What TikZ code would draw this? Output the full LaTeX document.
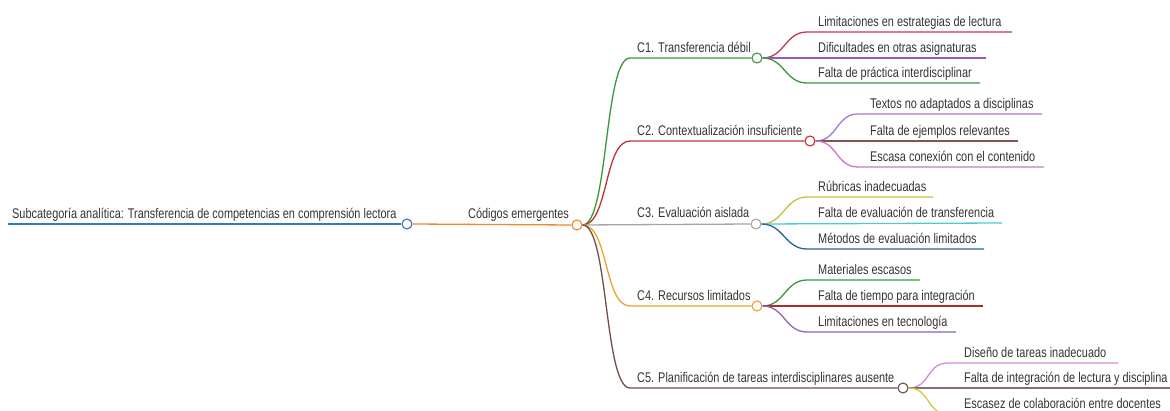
\documentclass[tikz,border=0pt]{standalone}
\usepackage{fontspec}
\setmainfont[FakeStretch=0.78]{Liberation Sans}

\definecolor{rootblue}{RGB}{52,121,185}
\definecolor{codorange}{RGB}{232,137,48}
\definecolor{cgreen}{RGB}{60,150,60}
\definecolor{cred}{RGB}{190,50,50}
\definecolor{cgray}{RGB}{165,165,165}
\definecolor{corange}{RGB}{236,160,50}
\definecolor{cbrown}{RGB}{110,80,70}
\definecolor{kred}{RGB}{185,60,80}
\definecolor{kpurple}{RGB}{150,90,190}
\definecolor{klilac}{RGB}{170,120,200}
\definecolor{kbrown}{RGB}{140,80,80}
\definecolor{kpink}{RGB}{200,120,190}
\definecolor{kolive}{RGB}{200,190,60}
\definecolor{kcyan}{RGB}{80,200,210}
\definecolor{knavy}{RGB}{40,100,150}
\definecolor{kdred}{RGB}{180,40,40}
\definecolor{kmauve}{RGB}{140,100,190}
\definecolor{kpink2}{RGB}{210,140,210}
\definecolor{kgbrown}{RGB}{130,110,110}
\definecolor{kyellow}{RGB}{210,200,60}

\begin{document}
\begin{tikzpicture}[%
        x = 1pt, y = -1pt,
        font = \fontsize{14}{16}\selectfont,
        dot/.style = {circle, draw, fill=white, line width=1.1pt, inner sep=0pt, minimum size=10pt},
        lbl/.style = {anchor=base west, inner sep=0pt, text=black!80},
        br/.style = {line width=1.3pt}
    ]
      \useasboundingbox (0,0) rectangle (1170,411);

      % root and codes
      \coordinate (r0s) at (8,224);
      \node [dot, draw=rootblue] (r0) at (407,224) {};
      \node [dot, draw=codorange] (c0) at (577,225) {};
      \draw [br, line width=1.8pt, rootblue] (r0s) -- (r0.west);
      \draw [br, codorange] (r0.east) -- (c0.west);
      \node [lbl] (r0t) at (12,219) {Subcategoría analítica: Transferencia de competencias en comprensión lectora};
      \node [lbl] (c0t) at (468,219) {Códigos emergentes};

      % level one
      \node [dot, draw=cgreen] (c1) at (757,58) {};
      \node [dot, draw=cred] (c2) at (810,141) {};
      \node [dot, draw=cgray] (c3) at (756,224) {};
      \node [dot, draw=corange] (c4) at (757,306) {};
      \node [dot, draw=cbrown] (c5) at (903,388) {};
      \coordinate (c1s) at (630,58);
      \coordinate (c2s) at (630,141);
      \coordinate (c4s) at (630,306);
      \coordinate (c5s) at (630,388);
      \draw [br, cgreen] (c0.east) .. controls +(26,0) and +(-26,0) .. (c1s) -- (c1.west);
      \draw [br, cred] (c0.east) .. controls +(26,0) and +(-26,0) .. (c2s) -- (c2.west);
      \draw [br, cgray] (c0.east) -- (c3.west);
      \draw [br, corange] (c0.east) .. controls +(26,0) and +(-26,0) .. (c4s) -- (c4.west);
      \draw [br, cbrown] (c0.east) .. controls +(26,0) and +(-26,0) .. (c5s) -- (c5.west);
      \node [lbl] (c1t) at (637,53) {C1. Transferencia débil};
      \node [lbl] (c2t) at (637,136) {C2. Contextualización insuficiente};
      \node [lbl] (c3t) at (637,218) {C3. Evaluación aislada};
      \node [lbl] (c4t) at (637,301) {C4. Recursos limitados};
      \node [lbl] (c5t) at (637,383) {C5. Planificación de tareas interdisciplinares ausente};

      % C1 leaves
      \coordinate (a1s) at (807,32);  \coordinate (a1e) at (1012,32);
      \coordinate (a2s) at (807,58);  \coordinate (a2e) at (986,58);
      \coordinate (a3s) at (807,83);  \coordinate (a3e) at (980,83);
      \draw [br, kred] (c1.east) .. controls +(22,0) and +(-22,0) .. (a1s) -- (a1e);
      \draw [br, kpurple] (c1.east) -- (a2e);
      \draw [br, cgreen] (c1.east) .. controls +(22,0) and +(-22,0) .. (a3s) -- (a3e);
      \node [lbl] (a1t) at (818,26.5) {Limitaciones en estrategias de lectura};
      \node [lbl] (a2t) at (818,52.5) {Dificultades en otras asignaturas};
      \node [lbl] (a3t) at (818,77.5) {Falta de práctica interdisciplinar};

      % C2 leaves
      \coordinate (b1s) at (858,114); \coordinate (b1e) at (1042,114);
      \coordinate (b2s) at (858,141); \coordinate (b2e) at (1018,141);
      \coordinate (b3s) at (858,167); \coordinate (b3e) at (1044,167);
      \draw [br, klilac] (c2.east) .. controls +(22,0) and +(-22,0) .. (b1s) -- (b1e);
      \draw [br, kbrown] (c2.east) -- (b2e);
      \draw [br, kpink] (c2.east) .. controls +(22,0) and +(-22,0) .. (b3s) -- (b3e);
      \node [lbl] (b1t) at (870,108.5) {Textos no adaptados a disciplinas};
      \node [lbl] (b2t) at (870,135.5) {Falta de ejemplos relevantes};
      \node [lbl] (b3t) at (870,161.5) {Escasa conexión con el contenido};

      % C3 leaves
      \coordinate (d1s) at (807,197); \coordinate (d1e) at (933,197);
      \coordinate (d2s) at (807,223); \coordinate (d2e) at (1002,223);
      \coordinate (d3s) at (807,249); \coordinate (d3e) at (984,249);
      \draw [br, kolive] (c3.east) .. controls +(22,0) and +(-22,0) .. (d1s) -- (d1e);
      \draw [br, kcyan] (c3.east) -- (d2e);
      \draw [br, knavy] (c3.east) .. controls +(22,0) and +(-22,0) .. (d3s) -- (d3e);
      \node [lbl] (d1t) at (818,191.5) {Rúbricas inadecuadas};
      \node [lbl] (d2t) at (818,217.5) {Falta de evaluación de transferencia};
      \node [lbl] (d3t) at (818,243.5) {Métodos de evaluación limitados};

      % C4 leaves
      \coordinate (e1s) at (807,280); \coordinate (e1e) at (920,280);
      \coordinate (e2s) at (807,306); \coordinate (e2e) at (983,306);
      \coordinate (e3s) at (807,332); \coordinate (e3e) at (956,332);
      \draw [br, cgreen] (c4.east) .. controls +(22,0) and +(-22,0) .. (e1s) -- (e1e);
      \draw [br, kdred] (c4.east) -- (e2e);
      \draw [br, kmauve] (c4.east) .. controls +(22,0) and +(-22,0) .. (e3s) -- (e3e);
      \node [lbl] (e1t) at (818,274.5) {Materiales escasos};
      \node [lbl] (e2t) at (818,300.5) {Falta de tiempo para integración};
      \node [lbl] (e3t) at (818,326.5) {Limitaciones en tecnología};

      % C5 leaves
      \coordinate (f1s) at (948,363); \coordinate (f1e) at (1118,363);
      \coordinate (f2s) at (948,388); \coordinate (f2e) at (1176,388);
      \coordinate (f3s) at (948,414); \coordinate (f3e) at (1176,414);
      \draw [br, kpink2] (c5.east) .. controls +(22,0) and +(-22,0) .. (f1s) -- (f1e);
      \draw [br, kgbrown] (c5.east) -- (f2e);
      \draw [br, kyellow] (c5.east) .. controls +(22,0) and +(-22,0) .. (f3s) -- (f3e);
      \node [lbl] (f1t) at (964,357.5) {Diseño de tareas inadecuado};
      \node [lbl] (f2t) at (964,382.5) {Falta de integración de lectura y disciplina};
      \node [lbl] (f3t) at (964,408.5) {Escasez de colaboración entre docentes};
    \end{tikzpicture}
\end{document}
